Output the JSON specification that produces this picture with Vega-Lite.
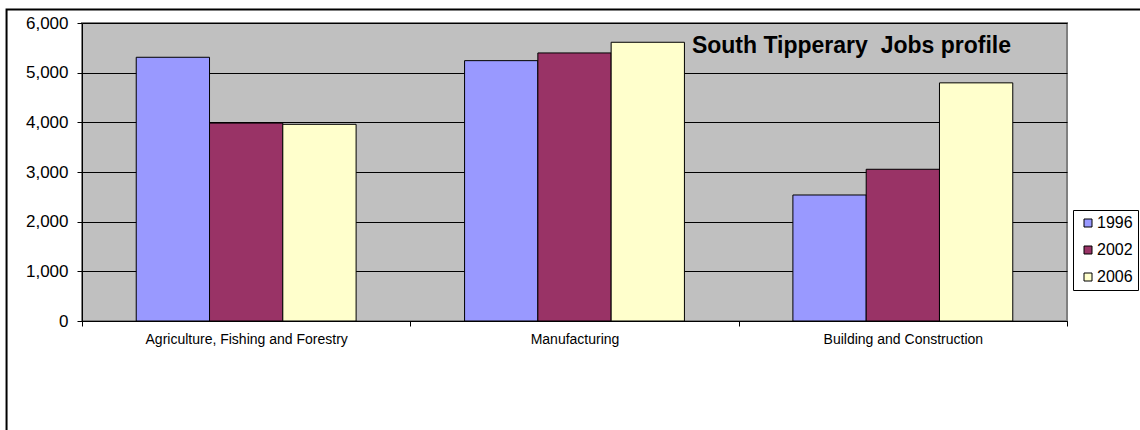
{
  "$schema": "https://vega.github.io/schema/vega-lite/v6.json",
  "width": 985,
  "height": 298,
  "autosize": {"type": "none"},
  "padding": {"left": 82, "top": 23, "right": 73, "bottom": 109},
  "background": "white",
  "config": {
    "font": "Liberation Sans",
    "view": {"fill": "#C0C0C0", "stroke": "#808080", "strokeWidth": 2}
  },
  "title": {
    "text": "South Tipperary\u00a0 Jobs profile",
    "orient": "top",
    "anchor": "end",
    "frame": "group",
    "offset": 0,
    "dx": -56,
    "dy": 67,
    "baseline": "alphabetic",
    "fontSize": 23,
    "fontWeight": "bold",
    "font": "Liberation Sans",
    "color": "black"
  },
  "datasets": {
    "jobs": [
      {"sector": "Agriculture, Fishing and Forestry", "year": "1996", "jobs": 5310},
      {"sector": "Agriculture, Fishing and Forestry", "year": "2002", "jobs": 3985},
      {"sector": "Agriculture, Fishing and Forestry", "year": "2006", "jobs": 3960},
      {"sector": "Manufacturing", "year": "1996", "jobs": 5242},
      {"sector": "Manufacturing", "year": "2002", "jobs": 5397},
      {"sector": "Manufacturing", "year": "2006", "jobs": 5612},
      {"sector": "Building and Construction", "year": "1996", "jobs": 2537},
      {"sector": "Building and Construction", "year": "2002", "jobs": 3055},
      {"sector": "Building and Construction", "year": "2006", "jobs": 4795}
    ]
  },
  "layer": [
    {
      "data": {"values": [{}]},
      "mark": {"type": "rect", "filled": false, "stroke": "black", "strokeWidth": 2},
      "encoding": {
        "x": {"datum": -0.0766, "type": "quantitative", "scale": {"domain": [0, 1], "nice": false}, "axis": null},
        "x2": {"datum": 1.2},
        "y": {"datum": 1.045, "type": "quantitative", "scale": {"domain": [0, 1], "nice": false}, "axis": null},
        "y2": {"datum": -0.5}
      }
    },
    {
      "data": {"name": "jobs"},
      "mark": {"type": "bar", "stroke": "black", "strokeWidth": 1},
      "encoding": {
        "x": {
          "field": "sector",
          "type": "nominal",
          "sort": ["Agriculture, Fishing and Forestry", "Manufacturing", "Building and Construction"],
          "scale": {"paddingInner": 0, "paddingOuter": 0},
          "axis": {
            "title": null,
            "labelAngle": 0,
            "labelLimit": 0,
            "tickBand": "extent",
            "labelFontSize": 14,
            "labelColor": "black",
            "tickColor": "black",
            "tickSize": 5,
            "domainColor": "black",
            "labelPadding": 6,
            "grid": false
          }
        },
        "xOffset": {
          "field": "year",
          "type": "nominal",
          "scale": {"paddingInner": 0, "paddingOuter": 0.74}
        },
        "y": {
          "field": "jobs",
          "type": "quantitative",
          "scale": {"domain": [0, 6000], "nice": false},
          "axis": {
            "title": null,
            "values": [0, 1000, 2000, 3000, 4000, 5000, 6000],
            "format": ",.0f",
            "labelFontSize": 17,
            "labelColor": "black",
            "grid": true,
            "gridColor": "black",
            "gridWidth": 1,
            "tickSize": 5,
            "tickColor": "black",
            "domainColor": "black",
            "labelPadding": 9
          }
        },
        "color": {
          "field": "year",
          "type": "nominal",
          "scale": {"domain": ["1996", "2002", "2006"], "range": ["#9999FF", "#993366", "#FFFFCC"]},
          "legend": {
            "title": null,
            "orient": "none",
            "legendX": 991,
            "legendY": 187,
            "symbolType": "square",
            "symbolSize": 64,
            "symbolStrokeColor": "black",
            "symbolStrokeWidth": 1,
            "labelFontSize": 16,
            "labelColor": "black",
            "padding": 5,
            "rowPadding": 11,
            "strokeColor": "black",
            "fillColor": "white",
            "labelOffset": 1,
            "symbolOffset": 2
          }
        }
      }
    }
  ],
  "resolve": {
    "scale": {"x": "independent", "y": "independent"},
    "axis": {"x": "independent", "y": "independent"}
  }
}
